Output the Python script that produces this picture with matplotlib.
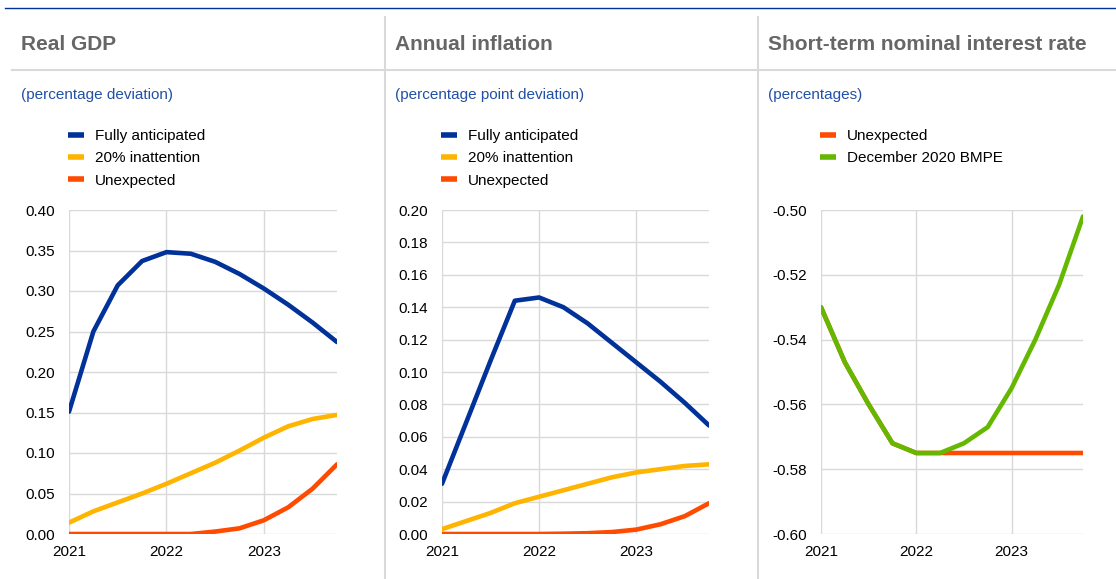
import numpy as np
import matplotlib.pyplot as plt
from matplotlib.lines import Line2D

plt.rcParams['font.family'] = ['Liberation Sans', 'DejaVu Sans']

# quarterly data, 2021Q1 .. 2023Q4
quarters = np.arange(12)
year_ticks = [0, 4, 8]
year_labels = ["2021", "2022", "2023"]

gdp_full = [0.151, 0.250, 0.307, 0.337, 0.348, 0.346, 0.336, 0.321, 0.303, 0.283, 0.261, 0.237]
gdp_inatt = [0.014, 0.028, 0.039, 0.050, 0.062, 0.075, 0.088, 0.103, 0.119, 0.133, 0.142, 0.147]
gdp_unexp = [0.0, 0.0, 0.0, 0.0, 0.0, 0.0, 0.003, 0.007, 0.017, 0.033, 0.056, 0.086]

inf_full = [0.031, 0.069, 0.107, 0.144, 0.146, 0.140, 0.130, 0.118, 0.106, 0.094, 0.081, 0.067]
inf_inatt = [0.003, 0.008, 0.013, 0.019, 0.023, 0.027, 0.031, 0.035, 0.038, 0.040, 0.042, 0.043]
inf_unexp = [0.0, 0.0, 0.0, 0.0, 0.0, 0.0002, 0.0005, 0.0012, 0.0027, 0.006, 0.011, 0.019]

rate_unexp = [-0.530, -0.547, -0.560, -0.572, -0.575, -0.575, -0.575, -0.575, -0.575, -0.575, -0.575, -0.575]
rate_bmpe = [-0.530, -0.547, -0.560, -0.572, -0.575, -0.575, -0.572, -0.567, -0.555, -0.540, -0.523, -0.502]

BLUE = "#003299"
YELLOW = "#ffb400"
ORANGE = "#ff4b00"
GREEN = "#65b800"
GRID = "#d9d9d9"
TITLE = "#666666"
SUB = "#2150a6"

W, H = 1116, 579
fig = plt.figure(figsize=(W / 100, H / 100), dpi=100)

def fx(px):
    return px / W

def fy(py):
    return 1 - py / H

# frame lines
fig.add_artist(Line2D([fx(5), 1], [fy(8), fy(8)], color=BLUE, lw=1))
fig.add_artist(Line2D([fx(12), 1], [fy(70), fy(70)], color=GRID, lw=1.5))
for sx in [385, 758]:
    fig.add_artist(Line2D([fx(sx), fx(sx)], [fy(17), 0], color=GRID, lw=1.5))

panels = [
    dict(left=69, right=337, title="Real GDP", tx=21, sub="(percentage deviation)",
         series=[(gdp_full, BLUE, "Fully anticipated"), (gdp_inatt, YELLOW, "20% inattention"),
                 (gdp_unexp, ORANGE, "Unexpected")],
         ylim=(0, 0.40), yticks=np.arange(0, 0.401, 0.05), legx=68),
    dict(left=442, right=709, title="Annual inflation", tx=395, sub="(percentage point deviation)",
         series=[(inf_full, BLUE, "Fully anticipated"), (inf_inatt, YELLOW, "20% inattention"),
                 (inf_unexp, ORANGE, "Unexpected")],
         ylim=(0, 0.20), yticks=np.arange(0, 0.201, 0.02), legx=441),
    dict(left=821, right=1083, title="Short-term nominal interest rate", tx=768, sub="(percentages)",
         series=[(rate_unexp, ORANGE, "Unexpected"), (rate_bmpe, GREEN, "December 2020 BMPE")],
         ylim=(-0.60, -0.50), yticks=np.arange(-0.60, -0.4999, 0.02), legx=820),
]

top, bottom = 210, 534
for p in panels:
    ax = fig.add_axes([fx(p["left"]), fy(bottom), fx(p["right"] - p["left"]), (bottom - top) / H])
    handles = []
    for vals, col, lab in p["series"]:
        ax.plot(quarters, vals, color=col, lw=3.3, solid_capstyle="round", zorder=3)
        handles.append(Line2D([], [], color=col, lw=4, solid_capstyle="butt", label=lab))
    ax.set_xlim(0, 11)
    ax.set_ylim(*p["ylim"])
    ax.set_xticks(year_ticks)
    ax.set_xticklabels(year_labels)
    ax.set_yticks(p["yticks"])
    ax.set_yticklabels(["{:.2f}".format(v).replace("-0.00", "0.00") for v in p["yticks"]])
    ax.grid(True, color=GRID, lw=1)
    for s in ax.spines.values():
        s.set_visible(False)
    ax.tick_params(length=0, labelsize=11, colors="#000000")
    ax.tick_params(axis="y", pad=10)
    ax.tick_params(axis="x", pad=8)

    fig.text(fx(p["tx"]), fy(44), p["title"], fontsize=15, fontweight="bold", color=TITLE,
             va="center", ha="left")
    fig.text(fx(p["tx"]), fy(95), p["sub"], fontsize=11, color=SUB, va="center", ha="left")
    ax.legend(handles=handles, loc="upper left", bbox_to_anchor=(fx(p["legx"]), fy(129)),
              bbox_transform=fig.transFigure, frameon=False, fontsize=11,
              handlelength=1.05, handletextpad=0.7, labelspacing=0.55, borderpad=0,
              borderaxespad=0)

fig.savefig("out.png", dpi=100, facecolor="white")
